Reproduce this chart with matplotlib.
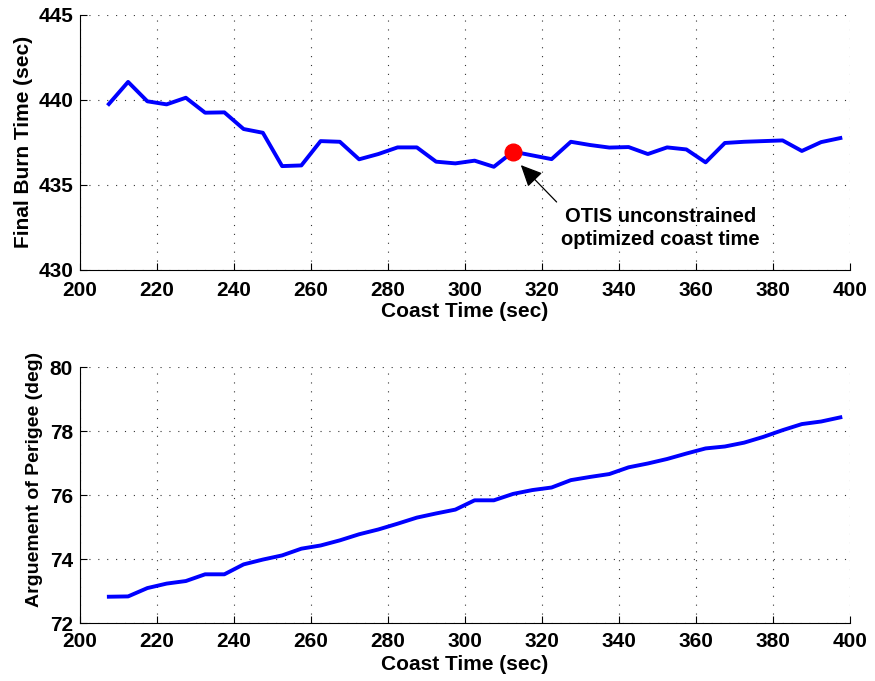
import numpy as np
import matplotlib
matplotlib.use("Agg")
import matplotlib.pyplot as plt

# coast time sweep (sec) and resulting final burn time / argument of perigee
coast = [207.5, 212.5, 217.5, 222.5, 227.5, 232.5, 237.5, 242.5, 247.5, 252.5,
         257.5, 262.5, 267.5, 272.5, 277.5, 282.5, 287.5, 292.5, 297.5, 302.5,
         307.5, 312.5, 317.5, 322.5, 327.5, 332.5, 337.5, 342.5, 347.5, 352.5,
         357.5, 362.5, 367.5, 372.5, 377.5, 382.5, 387.5, 392.5, 397.5]
burn = [439.74, 441.04, 439.90, 439.72, 440.11, 439.23, 439.25, 438.27, 438.05, 436.09,
        436.13, 437.56, 437.52, 436.49, 436.80, 437.19, 437.19, 436.35, 436.25, 436.41,
        436.05, 436.94, 436.72, 436.50, 437.52, 437.33, 437.18, 437.21, 436.80, 437.19,
        437.07, 436.31, 437.45, 437.52, 437.56, 437.60, 436.98, 437.50, 437.74]
perigee = [72.83, 72.84, 73.10, 73.24, 73.32, 73.53, 73.53, 73.84, 73.99, 74.12,
           74.33, 74.43, 74.59, 74.78, 74.93, 75.11, 75.30, 75.43, 75.55, 75.84,
           75.84, 76.04, 76.16, 76.24, 76.47, 76.57, 76.66, 76.87, 76.99, 77.13,
           77.30, 77.46, 77.52, 77.64, 77.82, 78.03, 78.22, 78.30, 78.43]
opt_coast, opt_burn = 312.5, 436.94
xticks = np.arange(200, 401, 20)

plt.rcParams["font.family"] = ["Liberation Sans", "DejaVu Sans"]
plt.rcParams["font.weight"] = "bold"
plt.rcParams["font.size"] = 15

fig = plt.figure(figsize=(8.75, 6.81), dpi=100)
ax1 = fig.add_axes([0.0914, 0.604, 0.88, 0.3746])
ax2 = fig.add_axes([0.0914, 0.0847, 0.88, 0.3763])

grid_kw = dict(color="#333333", lw=0.8, ls=(0, (1, 7)))
for ax in (ax1, ax2):
    ax.set_xlim(200, 400)
    ax.set_xticks(xticks)
    ax.grid(True, **grid_kw)
    ax.spines["top"].set_visible(False)
    ax.spines["right"].set_visible(False)
    ax.tick_params(direction="in", length=5, width=0.8)
    ax.tick_params(axis="y", pad=5)
    for lbl in ax.get_xticklabels() + ax.get_yticklabels():
        lbl.set_fontweight("bold")

ax1.tick_params(axis="x", pad=8.5)
ax2.tick_params(axis="x", pad=6)
ax1.set_xlabel("Coast Time (sec)", fontweight="bold", labelpad=1)
ax2.set_xlabel("Coast Time (sec)", fontweight="bold", labelpad=3)

ax1.plot(coast, burn, color="#0000ff", lw=2.8)
ax1.plot(opt_coast, opt_burn, "o", color="#ff0000", ms=12, zorder=5)
ax1.set_ylim(430, 445)
ax1.set_yticks([430, 435, 440, 445])
ax1.set_ylabel("Final Burn Time (sec)", fontweight="bold", labelpad=4)
ax1.annotate("OTIS unconstrained\noptimized coast time",
             xy=(314.5, 436.15), xytext=(350.8, 432.45),
             ha="center", va="center", fontsize=14.5, fontweight="bold",
             linespacing=1.3,
             arrowprops=dict(arrowstyle="-|>,head_length=0.6,head_width=0.28",
                             color="black", lw=0.9, mutation_scale=22,
                             relpos=(0.0, 1.0), shrinkA=2, shrinkB=0))

ax2.plot(coast, perigee, color="#0000ff", lw=2.8)
ax2.set_ylim(72, 80)
ax2.set_yticks([72, 74, 76, 78, 80])
ax2.set_ylabel("Arguement of Perigee (deg)", fontweight="bold", fontsize=14,
               labelpad=5)
ax2.yaxis.label.set_y(0.56)

fig.savefig("out.png", dpi=100)
